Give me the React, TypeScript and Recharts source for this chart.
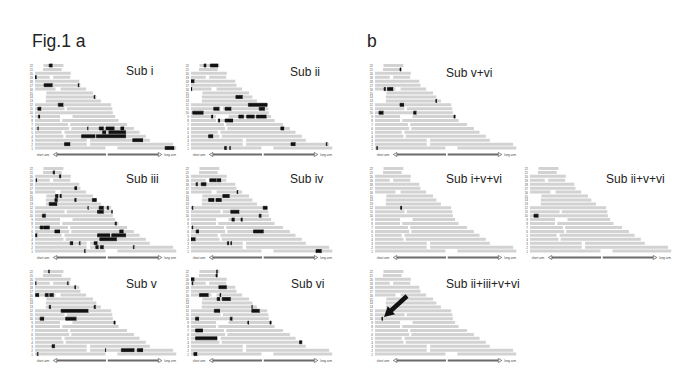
import { BarChart, Bar, XAxis, YAxis, Cell } from 'recharts'

type Seg = [number, number, number] // chromosome, start (Mb), end (Mb)

// chromosome outlines, index 0 = chr1 (Mb)
const chrLength = [249, 243, 202, 195, 184, 174, 162, 147, 141, 137, 136, 134, 116, 108, 102, 90, 80, 78, 62, 63, 47, 50]
const chrStart = [0, 0, 0, 0, 0, 0, 0, 0, 0, 0, 0, 0, 19, 19, 20, 0, 0, 0, 0, 0, 14, 15]
const cenStart = [124, 91, 91, 50, 47, 60, 58, 44, 44, 39, 52, 35, 19, 19, 20, 36, 80, 78, 26, 63, 14, 15]
const cenEnd = [145, 97, 97, 54, 52, 64, 62, 48, 66, 39, 56, 35, 19, 19, 20, 45, 80, 78, 32, 63, 14, 15]
const chrOrder = [22, 21, 20, 19, 18, 17, 16, 15, 14, 13, 12, 11, 10, 9, 8, 7, 6, 5, 4, 3, 2, 1]

// black segments per subclone
const subI: Seg[] = [
  [22, 25, 31], [19, 0, 3], [17, 16, 31], [17, 76, 78], [14, 104, 106], [12, 41, 50], [11, 5, 11], [9, 6, 9],
  [6, 5, 6.5], [6, 92.5, 94], [6, 113, 121], [6, 125, 140], [6, 151, 157], [5, 119, 125], [5, 130, 160],
  [4, 82, 106], [4, 108, 160], [3, 172, 190], [2, 52, 62], [1, 229, 245],
]
const subII: Seg[] = [
  [22, 23, 27], [22, 34, 48], [18, 0, 6], [16, 0, 2], [14, 79, 91], [12, 101, 134], [11, 40, 50], [11, 60, 71],
  [11, 120, 130], [10, 3, 22], [9, 36, 39], [9, 84, 93], [9, 98, 112], [9, 115, 133], [8, 48, 51], [8, 60, 74],
  [6, 158, 164], [4, 31, 39], [2, 176, 184], [2, 238, 240], [1, 59, 63], [1, 68, 70],
]
const subIII: Seg[] = [
  [21, 32, 35], [20, 43, 46], [19, 2, 3.5], [17, 70, 74], [15, 36, 41], [15, 44, 47], [14, 35, 40], [14, 70, 73],
  [14, 101, 108], [13, 25, 39], [12, 93, 94.5], [12, 113, 121], [12, 127, 130], [11, 110, 121], [11, 135, 137],
  [10, 13, 19], [8, 141, 144], [7, 9, 14], [7, 15, 26], [6, 35, 44], [6, 149, 156], [5, 1, 4], [5, 110, 132],
  [5, 135, 160], [4, 114, 144], [3, 62, 67], [3, 78, 80], [3, 104, 110], [2, 107, 112], [2, 115, 121],
  [2, 173, 175], [1, 87, 89],
]
const subIV: Seg[] = [
  [19, 33, 45], [19, 46, 53], [18, 9, 12], [18, 18, 27], [16, 81, 83], [15, 56, 68], [14, 31, 41], [14, 44, 54],
  [12, 2, 4], [12, 127, 134], [11, 70, 85], [10, 120, 124], [9, 72, 77], [9, 88, 91], [7, 2, 4], [6, 9, 14],
  [6, 110, 128], [4, 0, 8], [3, 64, 67], [3, 70, 72], [1, 220, 230],
]
const subV: Seg[] = [
  [22, 24, 26], [19, 1, 2.5], [19, 57, 59], [18, 70, 72], [16, 1, 7], [16, 18, 24], [16, 26, 33], [13, 25, 28],
  [13, 104, 107], [12, 46, 94], [10, 9, 16], [10, 54, 73], [9, 139, 141], [3, 30, 35], [2, 124, 125],
  [2, 152, 175], [2, 180, 190], [1, 4, 6],
]
const subVI: Seg[] = [
  [22, 45, 47], [21, 44, 46.5], [20, 0, 6], [19, 2, 4], [18, 49, 63], [16, 15, 31], [16, 51, 53], [15, 46, 51],
  [15, 55, 70], [13, 107, 108.5], [12, 41, 51], [12, 107, 121], [10, 8, 14], [10, 69, 73], [9, 100, 102],
  [9, 139, 141], [7, 8, 21], [5, 8, 46], [4, 191, 195], [1, 5, 11],
]
const subVvi: Seg[] = [
  [21, 44, 46], [16, 16, 19], [16, 22, 32], [13, 107, 109], [12, 44, 51], [10, 7, 15], [10, 68, 73],
  [9, 139, 141], [1, 3, 5],
]
const subIvvi: Seg[] = [[12, 45, 47.5]]
const subIIvvi: Seg[] = [[10, 7, 15]]
const subIIiiivvi: Seg[] = [[10, 12, 14]]

const GRAY = '#d2d2d2'
const BLACK = '#111111'
const FONT = 'Liberation Sans, Arial, Helvetica, sans-serif'
const PLOT_W = 141.5
const BAND_H = 86.5
const AXIS_W = 10

const panels = [
  { title: 'Sub i', segs: subI, left: 35, top: 64, tx: 126, ty: 75 },
  { title: 'Sub ii', segs: subII, left: 191, top: 64, tx: 290, ty: 76 },
  { title: 'Sub iii', segs: subIII, left: 35, top: 167, tx: 126, ty: 183 },
  { title: 'Sub iv', segs: subIV, left: 191, top: 167, tx: 290, ty: 183 },
  { title: 'Sub v', segs: subV, left: 35, top: 270, tx: 126, ty: 288 },
  { title: 'Sub vi', segs: subVI, left: 191, top: 270, tx: 291, ty: 288 },
  { title: 'Sub v+vi', segs: subVvi, left: 375, top: 64, tx: 446, ty: 76.5 },
  { title: 'Sub i+v+vi', segs: subIvvi, left: 375, top: 167, tx: 446, ty: 183 },
  { title: 'Sub ii+v+vi', segs: subIIvvi, left: 530, top: 167, tx: 606, ty: 183 },
  { title: 'Sub ii+iii+v+vi', segs: subIIiiivvi, left: 375, top: 270, tx: 446, ty: 288 },
]

function buildRows(segs: Seg[]) {
  return chrOrder.map((c) => {
    const i = c - 1
    const start = chrStart[i]
    const cs = cenStart[i]
    const ce = cenEnd[i]
    const len = chrLength[i]
    const mine = segs.filter((s) => s[0] === c)
    const cuts = new Set<number>([0, start, cs, ce, len])
    mine.forEach((s) => {
      cuts.add(Math.max(0, Math.min(len, s[1])))
      cuts.add(Math.max(0, Math.min(len, s[2])))
    })
    const pts = [...cuts].sort((a, b) => a - b)
    const pieces: { v: number; fill: string }[] = []
    for (let k = 0; k < pts.length - 1; k++) {
      const a = pts[k]
      const b = pts[k + 1]
      if (b - a <= 0) continue
      const m = (a + b) / 2
      let fill = 'none'
      if (mine.some((s) => m > s[1] && m < s[2])) fill = BLACK
      else if ((m > start && m < cs) || (m > ce && m < len)) fill = GRAY
      const last = pieces[pieces.length - 1]
      if (last && last.fill === fill) last.v += b - a
      else pieces.push({ v: b - a, fill })
    }
    const row: any = { chr: String(c), fills: pieces.map((p) => p.fill) }
    pieces.forEach((p, k) => (row['v' + k] = p.v))
    return row
  })
}

function Panel({ segs, left, top }: { segs: Seg[]; left: number; top: number }) {
  const rows = buildRows(segs)
  const n = Math.max(...rows.map((r) => r.fills.length))
  rows.forEach((r) => {
    for (let k = 0; k < n; k++) if (r['v' + k] === undefined) r['v' + k] = 0
  })
  const keys = Array.from({ length: n }, (_, k) => 'v' + k)
  return (
    <div style={{ position: 'absolute', left: left - AXIS_W, top: top - 2 }}>
      <BarChart
        layout="vertical"
        width={AXIS_W + PLOT_W + 2}
        height={BAND_H + 4}
        data={rows}
        margin={{ top: 2, right: 2, bottom: 2, left: 0 }}
        barCategoryGap={0}
      >
        <XAxis type="number" domain={[0, 249]} hide allowDataOverflow />
        <YAxis
          type="category"
          dataKey="chr"
          width={AXIS_W}
          interval={0}
          axisLine={false}
          tickLine={false}
          tickSize={0}
          tickMargin={2}
          tick={{ fontSize: 3, fill: '#555', fontFamily: FONT }}
        />
        {keys.map((key, k) => (
          <Bar key={key} dataKey={key} stackId="c" barSize={3} isAnimationActive={false}>
            {rows.map((r, i) => {
              const f = r.fills[k] ?? 'none'
              return (
                <Cell
                  key={i}
                  fill={f}
                  stroke={f === BLACK ? BLACK : 'none'}
                  strokeWidth={f === BLACK ? 0.7 : 0}
                />
              )
            })}
          </Bar>
        ))}
      </BarChart>
    </div>
  )
}

function ArmArrows({ left, top }: { left: number; top: number }) {
  const y = top + BAND_H + 4
  const L = left
  return (
    <g>
      <text x={L + 1.7} y={y + 1.1} fontSize={3} fill="#444" fontFamily={FONT}>short arm</text>
      <line x1={L + 21.8} y1={y} x2={L + 71} y2={y} stroke="#6b6b6b" strokeWidth={1.8} />
      <line x1={L + 72.7} y1={y} x2={L + 123.3} y2={y} stroke="#6b6b6b" strokeWidth={1.8} />
      <polygon
        points={`${L + 18.3},${y} ${L + 21.8},${y - 2} ${L + 21.8},${y + 2}`}
        fill="#fff"
        stroke="#555"
        strokeWidth={0.7}
      />
      <polygon
        points={`${L + 126.8},${y} ${L + 123.3},${y - 2} ${L + 123.3},${y + 2}`}
        fill="#fff"
        stroke="#555"
        strokeWidth={0.7}
      />
      <text x={L + 129.3} y={y + 1.1} fontSize={3} fill="#444" fontFamily={FONT}>long arm</text>
    </g>
  )
}

export default function App() {
  return (
    <div style={{ position: 'absolute', left: 0, top: 0, width: 700, height: 388, background: '#fff' }}>
      {panels.map((p) => (
        <Panel key={p.title} segs={p.segs} left={p.left} top={p.top} />
      ))}
      <svg
        width={700}
        height={388}
        style={{ position: 'absolute', left: 0, top: 0, pointerEvents: 'none' }}
      >
        <text x={32} y={47} fontSize={17.5} fill="#222" fontFamily={FONT}>Fig.1 a</text>
        <text x={367} y={47} fontSize={17.5} fill="#222" fontFamily={FONT}>b</text>
        {panels.map((p) => (
          <g key={p.title}>
            <text x={p.tx} y={p.ty} fontSize={12} fill="#222" fontFamily={FONT}>{p.title}</text>
            <ArmArrows left={p.left} top={p.top} />
          </g>
        ))}
        <polygon
          points="405.5,294.3 389.9,308.6 387.7,306.2 384,317 395.1,314.3 392.9,311.9 408.5,297.7"
          fill="#111"
        />
      </svg>
    </div>
  )
}
